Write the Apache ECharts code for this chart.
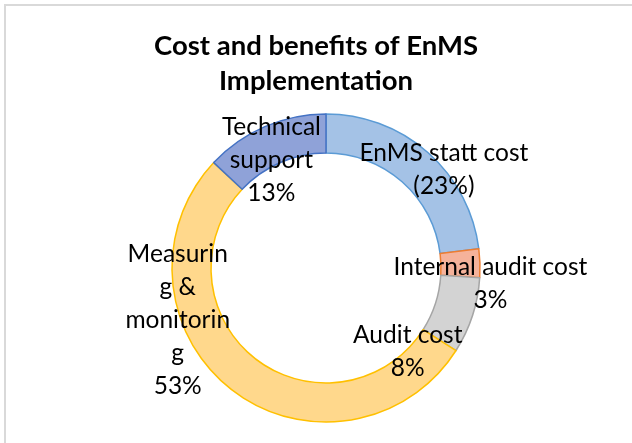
<!DOCTYPE html>
<html><head><meta charset="utf-8">
<script src="https://cdn.jsdelivr.net/npm/echarts@6/dist/echarts.min.js"></script>
<style>html,body{margin:0;padding:0;background:#fff}#c{width:632px;height:443px}</style>
</head><body><div id="c"></div>
<script>
const categories = ['EnMS statt cost', 'Internal audit cost', 'Audit cost', 'Measuring & monitoring', 'Technical support'];
const values = [23, 3, 8, 53, 13];
const labelTexts = ['EnMS statt cost\n(23%)', 'Internal audit cost\n3%', 'Audit cost\n8%', 'Measurin\ng &\nmonitorin\ng\n53%', 'Technical\nsupport\n13%'];
const fills = ['#A4C2E6', '#F5B29A', '#D3D3D3', '#FFD88C', '#8FA2D8'];
const borders = ['#5B9BD5', '#ED7D31', '#A5A5A5', '#FFC000', '#4472C4'];
const labelOffsets = [[27, 5], [27, 20], [-49, 41], [-64, -57], [0, 18]];

const chart = echarts.init(document.getElementById('c'));
chart.setOption({
  animation: false,
  graphic: [{type: 'rect', shape: {x: 5, y: 5, width: 700, height: 500}, style: {fill: 'none', stroke: '#D9D9D9', lineWidth: 2}, silent: true}],
  title: {
    text: 'Cost and benefits of EnMS\nImplementation',
    left: 'center', top: 24,
    textStyle: {fontFamily: 'Lato', fontWeight: 'bold', fontSize: 27.5, lineHeight: 35, color: '#000'}
  },
  series: [{
    type: 'pie',
    center: [326, 268],
    radius: [115, 154],
    startAngle: 90,
    clockwise: true,
    avoidLabelOverlap: false,
    label: {show: true, position: 'inside', fontFamily: 'Lato', fontSize: 24.5, lineHeight: 33, color: '#000', align: 'center'},
    labelLine: {show: false},
    labelLayout: function (p) { const o = labelOffsets[p.dataIndex]; return {dx: o[0], dy: o[1]}; },
    data: categories.map((c, i) => ({
      name: c, value: values[i],
      itemStyle: {color: fills[i], borderColor: borders[i], borderWidth: 1.5},
      label: {formatter: labelTexts[i]}
    }))
  }]
});
</script></body></html>
